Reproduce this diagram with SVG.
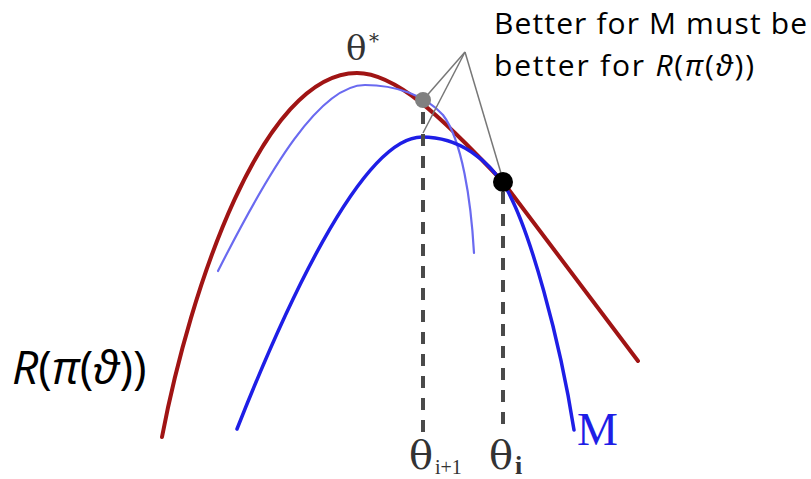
<svg xmlns="http://www.w3.org/2000/svg" width="811" height="479" viewBox="0 0 811 479">
<style>
.red{fill:none;stroke:#a01414;stroke-width:4;stroke-linecap:round}
.blue{fill:none;stroke:#1e1ee6;stroke-width:3.5;stroke-linecap:round}
.lblue{fill:none;stroke:#6a6af0;stroke-width:2.2;stroke-linecap:round}
.dash{fill:none;stroke:#4a4a4a;stroke-width:4;stroke-dasharray:12 10}
.lead{fill:none;stroke:#777;stroke-width:1.5}
.sans{font-family:"Open Sans","Liberation Sans",sans-serif;fill:#000}
.ser{font-family:"DejaVu Serif","Liberation Serif",serif;fill:#333}
</style>
<rect width="811" height="479" fill="#fff"/>
<g id="curves">
<path id="curve-R" class="red" d="M162,437 C190,290 262,73 357,73 C395,73 440,115 503,182 L638,361"/>
<path id="curve-prev" class="lblue" d="M218,271 C270,168 320,85 365,85 C395,85 425,95 443,115 C462,140 471,200 474,253"/>
<path id="curve-M" class="blue" d="M237,429 C280,320 360,137 422,137 C460,137 488,160 506,188 C530,230 560,340 574,430"/>
</g>
<g id="connectors">
<line class="dash" x1="423" y1="112" x2="423" y2="432"/>
<line class="dash" x1="503" y1="192" x2="503" y2="432"/>
<line class="lead" x1="465" y1="52" x2="423" y2="100"/>
<line class="lead" x1="465" y1="52" x2="423" y2="133"/>
<line class="lead" x1="465" y1="52" x2="503" y2="180"/>
</g>
<g id="node-theta-i1"><circle cx="423" cy="100" r="8" fill="#808080"/></g>
<g id="node-theta-i"><circle cx="503" cy="182" r="10" fill="#000"/></g>
<g id="label-note">
<text class="sans" x="494" y="34" font-size="30" textLength="313">Better for M must be</text>
<text class="sans" x="494" y="76" font-size="30" textLength="260">better for <tspan font-style="italic">R</tspan>(<tspan font-style="italic">π</tspan>(<tspan font-style="italic">ϑ</tspan>))</text>
</g>
<g id="label-R"><text class="sans" x="12" y="384" font-size="46"><tspan font-style="italic">R</tspan>(<tspan font-style="italic">π</tspan>(<tspan font-style="italic">ϑ</tspan>))</text></g>
<g id="label-theta-star"><text class="ser" x="346" y="60" font-size="34">θ</text><text class="ser" x="369" y="48" font-size="20">*</text></g>
<g id="label-theta-i1"><text class="ser" x="409" y="469" font-size="40">θ</text><text x="435" y="474" font-size="20" font-family="Liberation Serif,serif" fill="#333">i+1</text></g>
<g id="label-theta-i"><text class="ser" x="489" y="469" font-size="40">θ</text><text x="515" y="474" font-size="26" font-weight="bold" font-family="Liberation Serif,serif" fill="#333">i</text></g>
<g id="label-M"><text x="577" y="445" font-size="46" font-family="Liberation Serif,serif" fill="#1e1ee6">M</text></g>
</svg>
